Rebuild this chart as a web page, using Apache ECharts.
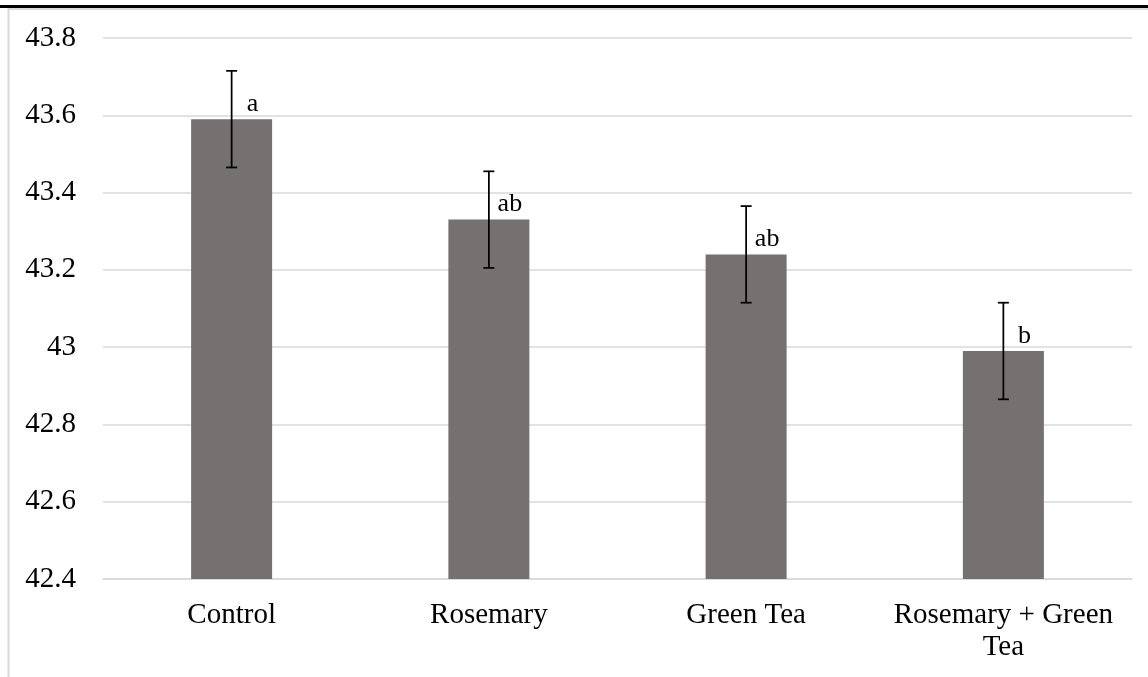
<!DOCTYPE html>
<html>
<head>
<meta charset="utf-8">
<script src="https://cdn.jsdelivr.net/npm/echarts@6/dist/echarts.min.js"></script>
<style>
  html, body { margin: 0; padding: 0; background: #ffffff; }
  #chart { width: 1148px; height: 677px; }
</style>
</head>
<body>
<div id="chart"></div>
<script>
// Treatments and their mean values with standard error
const categories = ['Control', 'Rosemary', 'Green Tea', 'Rosemary + Green\nTea'];
const means = [43.59, 43.33, 43.24, 42.99];
const errors = [0.125, 0.125, 0.125, 0.125];
const groupLetters = ['a', 'ab', 'ab', 'b'];
const yTicks = { min: 42.4, max: 43.8, step: 0.2 };

const SERIF = '"Liberation Serif", "Times New Roman", serif';
const BAR_COLOR = '#767171';
const GRID_COLOR = '#d9d9d9';

const chart = echarts.init(document.getElementById('chart'), null, { renderer: 'canvas' });

const errorData = categories.map((c, i) => [i, means[i] - errors[i], means[i] + errors[i]]);

const option = {
  backgroundColor: '#ffffff',
  animation: false,
  graphic: [
    // outer chart frame (light gray), only its top and left edges fall inside the view
    {
      type: 'rect',
      shape: { x: 8.5, y: 9, width: 2000, height: 2000 },
      style: { fill: 'none', stroke: GRID_COLOR, lineWidth: 2 },
      silent: true, z: -1
    },
    // heavy black rule along the top
    {
      type: 'rect',
      shape: { x: 0, y: 5, width: 1148, height: 3 },
      style: { fill: '#000000' },
      silent: true
    }
  ],
  grid: { left: 103, right: 16, top: 38, bottom: 98, containLabel: false },
  xAxis: {
    type: 'category',
    data: categories,
    axisLine: { show: true, lineStyle: { color: GRID_COLOR, width: 1.5 } },
    axisTick: { show: false },
    axisLabel: {
      fontFamily: SERIF, fontSize: 29, color: '#000000',
      lineHeight: 32, margin: 20, interval: 0
    },
    splitLine: { show: false }
  },
  yAxis: {
    type: 'value',
    min: yTicks.min, max: yTicks.max, interval: yTicks.step,
    axisLine: { show: false },
    axisTick: { show: false },
    axisLabel: {
      fontFamily: SERIF, fontSize: 29, color: '#000000', margin: 27,
      formatter: v => String(+v.toFixed(1))
    },
    splitLine: { show: true, lineStyle: { color: GRID_COLOR, width: 1.5 } }
  },
  series: [
    {
      type: 'bar',
      data: means,
      barWidth: 81,
      itemStyle: { color: BAR_COLOR },
      label: {
        show: true,
        position: 'top',
        distance: 2,
        offset: [21, 0],
        fontFamily: SERIF, fontSize: 26, color: '#000000',
        formatter: p => groupLetters[p.dataIndex]
      },
      z: 2
    },
    {
      type: 'custom',
      data: errorData,
      z: 5,
      renderItem: (params, api) => {
        const x = api.value(0);
        const lo = api.coord([x, api.value(1)]);
        const hi = api.coord([x, api.value(2)]);
        const cap = 5.5;
        const style = { stroke: '#000000', lineWidth: 1.75 };
        return {
          type: 'group',
          children: [
            { type: 'line', shape: { x1: hi[0], y1: hi[1], x2: lo[0], y2: lo[1] }, style },
            { type: 'line', shape: { x1: hi[0] - cap, y1: hi[1], x2: hi[0] + cap, y2: hi[1] }, style },
            { type: 'line', shape: { x1: lo[0] - cap, y1: lo[1], x2: lo[0] + cap, y2: lo[1] }, style }
          ]
        };
      }
    }
  ]
};

chart.setOption(option);
</script>
</body>
</html>
